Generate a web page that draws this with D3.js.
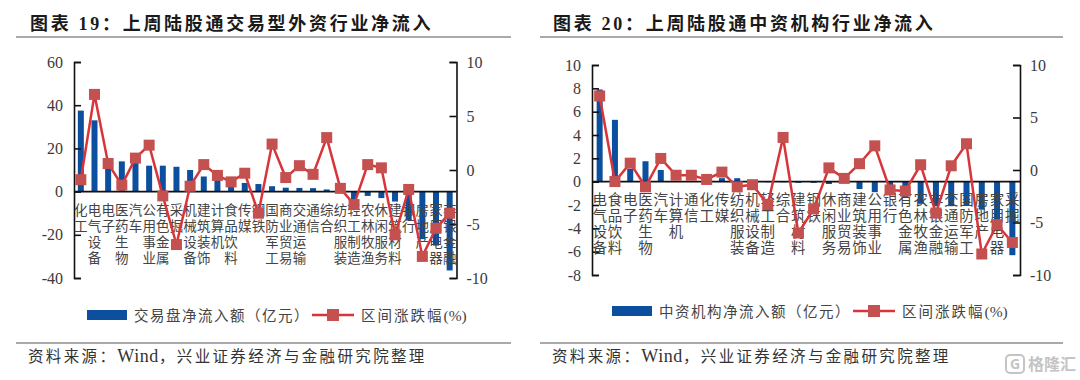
<!DOCTYPE html>
<html><head><meta charset="utf-8">
<script src="https://cdn.jsdelivr.net/npm/d3@7"></script>
<style>html,body{margin:0;padding:0;background:#fff}svg{display:block}</style></head>
<body><svg id="c" width="1080" height="380"></svg>
<script>
const catsA=["化工","电气设备","电子","医药生物","汽车","公用事业","有色金属","采掘","机械设备","建筑装饰","计算机","食品饮料","传媒","钢铁","国防军工","商业贸易","交通运输","通信","综合","纺织服装","轻工制造","农林牧渔","休闲服务","建筑材料","银行","房地产","家用电器","非银金融"];
const barsA=[37.5,33,12,14,13.5,12,12,11.5,10,7,5.5,4.5,4,3.5,2.5,1.8,1.7,1.6,1,0.4,-4,-2,-3,-4.6,-13.4,-22,-25,-36.5];
const lineA=[-0.9,7,0.6,-1.4,1.1,2.3,-2.4,-6.9,-1.5,0.5,-0.5,-1.1,-0.3,-4,2.4,-0.7,0.4,-0.4,3,-1.7,-3.2,0.5,0.2,-6,-1.8,-8,-5.4,-4];
const catsB=["电气设备","食品饮料","电子","医药生物","汽车","计算机","通信","化工","传媒","纺织服装","机械设备","轻工制造","综合","建筑材料","钢铁","休闲服务","商业贸易","建筑装饰","公用事业","银行","有色金属","农林牧渔","非银金融","交通运输","国防军工","房地产","家用电器","采掘"];
const barsB=[7.9,5.3,1.1,1.75,1,0.05,0.05,0.05,0.3,0.3,-0.05,-0.05,-0.05,-0.1,-0.1,-0.2,-0.1,-0.63,-0.9,-1,-1.4,-1.9,-2.1,-2.1,-2,-2.4,-3.4,-6.3];
const lineB=[7.05,-1.1,0.65,-1.6,1.1,-0.5,-0.5,-0.9,-0.2,-1.6,-1.4,-3.3,3.1,-6,-3.7,0.2,-0.8,0.6,2.3,-1.9,-2,0.5,-4.1,0.4,2.5,-8,-5.2,-6.9];
const ticksLeftA=[60,40,20,0,-20,-40], ticksLeftB=[10,8,6,4,2,0,-2,-4,-6,-8], ticksRight=[10,5,0,-5,-10];
const titleA="图表 19：上周陆股通交易型外资行业净流入", titleB="图表 20：上周陆股通中资机构行业净流入";
const legendBarA="交易盘净流入额（亿元）", legendBarB="中资机构净流入额（亿元）", legendLine="区间涨跌幅(%)";
const sourceParts=["资料来源：","Wind","，兴业证券经济与金融研究院整理"];

const BLUE="#0b4f9e",RED="#d8353a",MARK="#c4504f",TXT="#3a3a3a";
const FONT="'Liberation Serif','Noto Sans CJK SC',serif";
const svg=d3.select("#c");

function panel(o){
  const g=svg.append("g");
  const x=d3.scaleBand().domain(o.cats).range([o.x0,o.x1]);
  const yL=d3.scaleLinear().domain(o.domL).range([o.yB,o.yT]);
  const yR=d3.scaleLinear().domain([-10,10]).range([o.yB,o.yT]);
  const cx=d=>x(d)+x.bandwidth()/2;
  // title and rules
  g.append("text").attr("x",o.titleX).attr("y",30).attr("fill","#1a1a1a").attr("font-family",FONT)
    .attr("font-size",18).attr("font-weight",700).attr("letter-spacing",2.7).text(o.title);
  [37,343].forEach(y=>g.append("line").attr("x1",o.ruleX0).attr("x2",o.ruleX1).attr("y1",y).attr("y2",y).attr("stroke","#555").attr("stroke-width",1.2));
  const st=g.append("text").attr("x",o.srcX).attr("y",362).attr("fill","#333").attr("font-family",FONT).attr("font-size",15.5);
  sourceParts.forEach((p,i)=>st.append("tspan").attr("letter-spacing",i==1?0.6:2.35).attr("font-size",i==1?18:15.5).text(p));
  // bars
  g.selectAll(".b").data(o.bars).join("rect")
    .attr("x",(d,i)=>cx(o.cats[i])-3).attr("width",6)
    .attr("y",d=>Math.min(yL(d),yL(0))).attr("height",d=>Math.abs(yL(d)-yL(0))).attr("fill",BLUE);
  // axes
  const axL=d3.axisRight(yL).tickValues(o.ticksL).tickSize(7).tickFormat("");
  const axR=d3.axisLeft(yR).tickValues(ticksRight).tickSize(7).tickFormat("");
  [g.append("g").attr("transform",`translate(${o.x0},0)`).call(axL),
   g.append("g").attr("transform",`translate(${o.x1},0)`).call(axR)].forEach(a=>{
     a.select(".domain").attr("stroke","#111").attr("stroke-width",1.6);
     a.selectAll("line").attr("stroke","#111").attr("stroke-width",1.6);
  });
  g.append("line").attr("x1",o.x0).attr("x2",o.x1).attr("y1",yL(0)).attr("y2",yL(0)).attr("stroke","#111").attr("stroke-width",1.6);
  g.selectAll(".tl").data(o.ticksL).join("text").attr("x",o.x0-11).attr("y",d=>yL(d)+5.5).attr("text-anchor","end")
    .attr("font-family",FONT).attr("font-size",16).attr("fill",TXT).text(d=>d);
  g.selectAll(".tr").data(ticksRight).join("text").attr("x",o.x1+10).attr("y",d=>yR(d)+5.5)
    .attr("font-family",FONT).attr("font-size",16).attr("fill",TXT).text(d=>d);
  // category labels: one character per row
  o.cats.forEach(c=>{
    Array.from(c).forEach((ch,r)=>{
      g.append("text").attr("x",cx(c)).attr("y",o.labY+r*16).attr("text-anchor","middle")
        .attr("font-family",FONT).attr("font-size",o.labSize).attr("fill","#444").text(ch);
    });
  });
  // line
  const line=d3.line().x((d,i)=>cx(o.cats[i])).y(d=>yR(d));
  g.append("path").datum(o.line).attr("d",line).attr("fill","none").attr("stroke",RED).attr("stroke-width",2.5);
  g.selectAll(".m").data(o.line).join("rect").attr("x",(d,i)=>cx(o.cats[i])-5.5).attr("y",d=>yR(d)-5.5)
    .attr("width",11).attr("height",11).attr("fill",MARK);
  // legend
  g.append("rect").attr("x",o.lgX).attr("y",o.lgY-5).attr("width",40).attr("height",10).attr("fill",BLUE);
  g.append("text").attr("x",o.lgX+47).attr("y",o.lgY+5.5).attr("font-family",FONT).attr("font-size",14.5)
    .attr("letter-spacing",o.lgLS).attr("fill","#444").text(o.legendBar);
  g.append("line").attr("x1",o.lgX2).attr("x2",o.lgX2+42).attr("y1",o.lgY).attr("y2",o.lgY).attr("stroke",RED).attr("stroke-width",2.5);
  g.append("rect").attr("x",o.lgX2+15).attr("y",o.lgY-6).attr("width",12).attr("height",12).attr("fill",MARK);
  const lt=g.append("text").attr("x",o.lgX2+49).attr("y",o.lgY+5.5).attr("font-family",FONT).attr("font-size",14.5).attr("fill","#444");
  lt.append("tspan").attr("letter-spacing",2).text(legendLine.slice(0,5));
  lt.append("tspan").attr("font-size",15.5).text(legendLine.slice(5));
}
panel({cats:catsA,bars:barsA,line:lineA,domL:[-40,60],ticksL:ticksLeftA,x0:74,x1:456.5,yT:62,yB:278,
  title:titleA,titleX:30,ruleX0:16,ruleX1:511,srcX:28,labY:215,labSize:13.5,
  lgX:87,lgY:315,lgX2:312,legendBar:legendBarA,lgLS:1.5});
panel({cats:catsB,bars:barsB,line:lineB,domL:[-8,10],ticksL:ticksLeftB,x0:592,x1:1020,yT:65,yB:275,
  title:titleB,titleX:553,ruleX0:540,ruleX1:1063,srcX:552,labY:205,labSize:14.5,
  lgX:612,lgY:311,lgX2:853,legendBar:legendBarB,lgLS:1.5});
// watermark
svg.append("rect").attr("x",1006).attr("y",355).attr("width",18).attr("height",18).attr("rx",4).attr("fill","none").attr("stroke","#c4c4c4").attr("stroke-width",2);
svg.append("text").attr("x",1015).attr("y",369).attr("text-anchor","middle").attr("font-family","'Noto Sans',sans-serif").attr("font-size",14).attr("font-weight",700).attr("fill","#c4c4c4").text("G");
svg.append("text").attr("x",1028).attr("y",370).attr("font-family","'Noto Sans CJK SC'").attr("font-size",16).attr("font-weight",700).attr("fill","#c4c4c4").text("格隆汇");
</script></body></html>
